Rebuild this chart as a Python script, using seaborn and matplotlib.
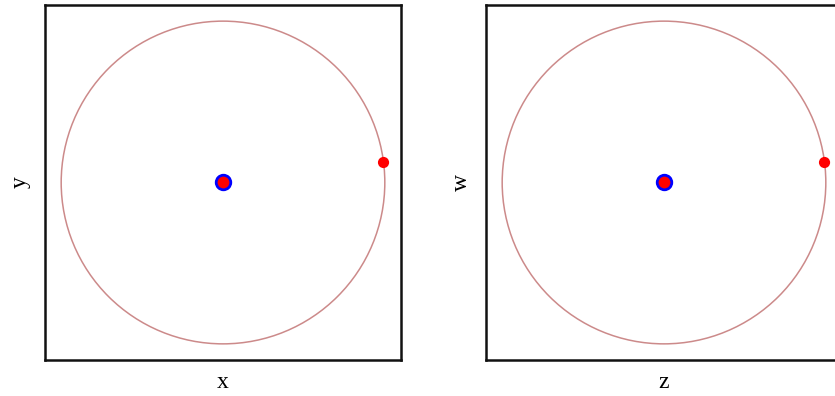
import numpy as np
import pandas as pd
import matplotlib
matplotlib.use("Agg")
import matplotlib.pyplot as plt
from matplotlib.patches import Circle
import seaborn as sns

# Panel setup: axis labels and the point data for each panel
panel_xlabels = ["x", "z"]
panel_ylabels = ["y", "w"]
radius = 1.0
center_x = [0.0]
center_y = [0.0]
orbit_x = [0.992]
orbit_y = [0.124]
limit = 1.1

sns.set_theme(style="white")
plt.rcParams["font.family"] = ["Liberation Serif", "DejaVu Serif"]

fig = plt.figure(figsize=(8.35, 3.96), dpi=100)
W, H = 835, 396
lefts = [45, 486]
for left, xl, yl in zip(lefts, panel_xlabels, panel_ylabels):
    ax = fig.add_axes([left / W, (H - 360) / H, 356 / W, 355 / H])
    ax.add_patch(Circle((0, 0), radius, fill=False, edgecolor="#cc8a8a", linewidth=1.1))
    sns.scatterplot(x=orbit_x, y=orbit_y, ax=ax, color="#ff0000", s=65,
                    edgecolor="none", zorder=3)
    sns.scatterplot(x=center_x, y=center_y, ax=ax, color="#ff0000", s=110,
                    edgecolor="#0000ff", linewidth=2, zorder=3)
    ax.set_xlim(-limit, limit)
    ax.set_ylim(-limit, limit)
    ax.set_xticks([])
    ax.set_yticks([])
    ax.set_xlabel(xl, fontsize=17, labelpad=9, color="black")
    ax.set_ylabel(yl, fontsize=17, labelpad=10, color="black")
    for sp in ax.spines.values():
        sp.set_visible(True)
        sp.set_color("#111111")
        sp.set_linewidth(1.8)

fig.savefig("out.png", dpi=100)
